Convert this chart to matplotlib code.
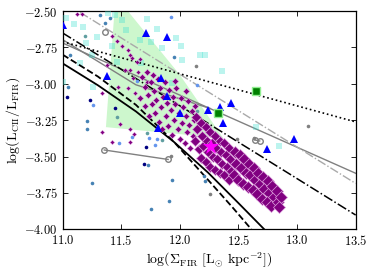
import numpy as np
import matplotlib
matplotlib.use('Agg')
import matplotlib.pyplot as plt
from matplotlib.ticker import FuncFormatter, MultipleLocator

plt.rcParams['mathtext.fontset'] = 'cm'
plt.rcParams['font.family'] = 'serif'
plt.rcParams['font.serif'] = ['DejaVu Serif']

# green shaded region
poly_x = [11.446, 11.514, 12.001, 12.370, 11.369]
poly_y = [-2.459, -2.459, -2.940, -3.374, -3.298]

# relations (lines)
solid_x = [11.0, 11.3, 11.625, 11.95, 12.24, 12.5, 12.72]
solid_y = [-2.86, -3.01, -3.19, -3.40, -3.61, -3.82, -4.0]
dashed_x = [11.0, 11.3, 11.625, 11.95, 12.24, 12.45, 12.61]
dashed_y = [-2.80, -2.95, -3.145, -3.40, -3.66, -3.85, -4.0]
dashdot_x = [11.0, 13.5]
dashdot_y = [-2.651, -3.902]
dotted_x = [11.0, 13.5]
dotted_y = [-2.711, -3.262]
gray1_x = [11.0, 13.5]
gray1_y = [-2.72, -3.615]
gray2_x = [11.0, 11.625, 12.26]
gray2_y = [-2.697, -3.007, -3.17]
graydd_x = [11.15, 13.5]
graydd_y = [-2.51, -3.685]

# paired measurements (open circles)
pairA_x = [11.355, 11.90]
pairA_y = [-3.455, -3.52]
pairB_x = [12.638, 12.681]
pairB_y = [-3.386, -3.393]
circ_x = [11.362]
circ_y = [-2.647]

# cyan squares
sq_x = [11.026, 11.096, 11.173, 11.199, 11.293, 11.387, 11.446, 11.506, 11.544, 11.660,
        11.719, 11.805, 11.751, 11.850, 11.964, 12.009, 12.014, 12.171, 12.214, 12.357,
        12.649, 12.850, 11.666, 11.935, 11.418, 11.247, 11.148, 11.259, 11.003, 11.461]
sq_y = [-2.550, -2.589, -2.608, -2.720, -2.676, -2.514, -2.528, -2.562, -2.631, -2.700,
        -2.555, -2.627, -2.715, -2.755, -2.686, -2.739, -2.839, -2.799, -2.805, -2.911,
        -3.300, -3.430, -2.858, -2.996, -2.743, -2.801, -2.858, -3.023, -2.987, -2.849]

# blue triangles
tri_x = [11.005, 11.381, 11.708, 11.892, 11.839, 11.887, 12.001, 11.816, 12.242, 12.342,
         12.436, 12.370, 12.974, 12.746]
tri_y = [-2.596, -2.947, -2.653, -2.681, -2.963, -3.083, -3.204, -3.303, -3.181, -3.159,
         -3.135, -3.269, -3.376, -3.445]

# green squares and star
gsq_x = [12.652, 12.325]
gsq_y = [-3.053, -3.202]
star_x = [12.268]
star_y = [-3.431]

# small dots by colour
steel_x = [11.318, 11.362, 11.404, 11.062, 11.048, 11.210, 11.205, 11.254, 11.950, 11.725,
           11.935, 11.910, 11.751, 12.206, 12.214]
steel_y = [-2.528, -2.583, -2.548, -2.801, -3.020, -3.259, -3.310, -3.679, -2.817, -3.558,
           -3.660, -3.808, -3.858, -3.631, -3.668]
corn_x = [11.921, 12.143, 11.637, 11.261, 11.483, 11.589, 11.736, 11.785, 11.807]
corn_y = [-2.539, -3.011, -2.980, -3.145, -3.408, -3.369, -3.374, -3.420, -3.379]
navy_x = [11.034, 11.233, 11.446, 11.713, 11.694, 12.406]
navy_y = [-3.094, -3.110, -3.168, -3.431, -3.553, -3.611]
teal_x = [11.461, 11.722, 11.845, 12.148, 11.190]
teal_y = [-3.225, -3.340, -3.388, -3.188, -2.674]
gray_x = [12.135, 11.927, 12.253, 12.137, 12.491, 12.632, 13.097]
gray_y = [-2.881, -3.496, -3.757, -3.227, -3.377, -3.372, -3.289]

# purple diamonds: small, medium, large, largest
dsm_x = [11.162, 11.418, 11.461, 11.503, 11.560, 11.574, 11.589, 11.532, 11.574, 11.597,
         11.560, 11.333, 11.474, 11.617, 11.375, 11.645, 11.717, 11.333, 11.418, 11.489,
         11.574, 11.574, 11.608, 11.63, 11.66, 11.12]
dsm_y = [-2.519, -2.674, -2.709, -2.743, -2.766, -2.801, -2.823, -2.904, -2.904, -2.961,
         -3.030, -3.064, -3.025, -3.064, -2.872, -2.918, -2.987, -3.328, -3.397, -3.278,
         -3.397, -3.31, -3.345, -2.85, -2.83, -2.52]
dmd_x = [11.68, 11.70, 11.72, 11.73, 11.75, 11.76, 11.77, 11.78, 11.79, 11.80, 11.81, 11.82,
         11.83, 11.84, 11.85, 11.86, 11.87, 11.88, 11.89, 11.90, 11.91, 11.92, 11.93, 11.94,
         11.95, 11.96, 11.97, 11.98, 11.99, 12.00, 12.01, 12.02, 12.03, 12.04, 12.05, 12.06,
         12.07, 12.08, 12.09, 12.10, 12.11, 12.12, 11.74, 11.70, 11.66, 11.96, 12.05, 12.13]
dmd_y = [-2.95, -3.02, -2.92, -3.08, -2.99, -3.14, -2.94, -3.05, -3.20, -3.11, -2.97, -3.26,
         -3.03, -3.16, -3.31, -3.09, -2.99, -3.22, -3.13, -3.29, -3.04, -3.18, -3.35, -3.09,
         -3.25, -3.14, -3.03, -3.31, -3.20, -3.38, -3.10, -3.27, -3.16, -3.41, -3.22, -3.33,
         -3.12, -3.28, -3.44, -3.19, -3.36, -3.25, -3.22, -3.15, -3.10, -2.98, -3.05, -3.15]
dlg_x = [12.14, 12.15, 12.13, 12.16, 12.18, 12.19, 12.20, 12.18, 12.22, 12.23, 12.24, 12.22,
         12.26, 12.27, 12.28, 12.26, 12.30, 12.31, 12.32, 12.30, 12.34, 12.35, 12.36, 12.34,
         12.38, 12.39, 12.40, 12.38, 12.42, 12.43, 12.44, 12.42]
dlg_y = [-3.23, -3.31, -3.39, -3.45, -3.27, -3.36, -3.43, -3.51, -3.30, -3.39, -3.47, -3.54,
         -3.33, -3.41, -3.50, -3.57, -3.36, -3.44, -3.52, -3.59, -3.39, -3.47, -3.55, -3.61,
         -3.41, -3.49, -3.57, -3.63, -3.44, -3.52, -3.60, -3.66]
dxl_x = [12.47, 12.48, 12.46, 12.51, 12.52, 12.50, 12.55, 12.56, 12.54, 12.59, 12.60, 12.58,
         12.63, 12.64, 12.62, 12.67, 12.68, 12.66, 12.71, 12.72, 12.70, 12.75, 12.76, 12.74,
         12.79, 12.80, 12.78, 12.83, 12.84, 12.86, 12.85]
dxl_y = [-3.47, -3.55, -3.63, -3.49, -3.58, -3.66, -3.52, -3.61, -3.69, -3.55, -3.63, -3.71,
         -3.58, -3.66, -3.73, -3.61, -3.69, -3.76, -3.64, -3.72, -3.79, -3.67, -3.75, -3.81,
         -3.70, -3.78, -3.84, -3.74, -3.81, -3.78, -3.85]

fig = plt.figure(figsize=(3.74, 2.70), dpi=100)
ax = fig.add_axes([0.1676, 0.1507, 0.7834, 0.8085])

ax.fill(poly_x, poly_y, color='lightgreen', alpha=0.45, lw=0, zorder=1)

ax.plot(gray1_x, gray1_y, '-', color='gray', lw=1.0, zorder=2)
ax.plot(gray2_x, gray2_y, '-', color='gray', lw=1.0, zorder=2)
ax.plot(graydd_x, graydd_y, '-.', color='darkgray', lw=1.0, zorder=2)
ax.plot(pairA_x, pairA_y, 'o-', color='gray', mfc='none', ms=4, lw=1.0, zorder=2)
ax.plot(pairB_x, pairB_y, 'o-', color='gray', mfc='none', ms=4, lw=1.0, zorder=2)
ax.plot(circ_x, circ_y, 'o', color='gray', mfc='none', ms=4, zorder=2)

ax.plot(sq_x, sq_y, 's', color='turquoise', alpha=0.35, ms=5, mew=0, zorder=3)

ax.plot(solid_x, solid_y, '-', color='k', lw=1.3, zorder=4)
ax.plot(dashed_x, dashed_y, '--', color='k', lw=1.3, zorder=4)
ax.plot(dashdot_x, dashdot_y, '-.', color='k', lw=1.1, zorder=4)
ax.plot(dotted_x, dotted_y, ':', color='k', lw=1.2, zorder=4)

ax.plot(steel_x, steel_y, 'o', color='steelblue', ms=2.6, mew=0, zorder=5)
ax.plot(corn_x, corn_y, 'o', color='cornflowerblue', ms=2.6, mew=0, zorder=5)
ax.plot(navy_x, navy_y, 'o', color='navy', ms=2.6, mew=0, zorder=5)
ax.plot(teal_x, teal_y, 'o', color='cadetblue', ms=2.6, mew=0, zorder=5)
ax.plot(gray_x, gray_y, 'o', color='gray', ms=2.6, mew=0, zorder=5)

ax.plot(dsm_x, dsm_y, 'D', color='purple', mec='plum', mew=0.3, ms=2.2, zorder=6)
ax.plot(dmd_x, dmd_y, 'D', color='purple', mec='plum', mew=0.4, ms=3.2, zorder=6)
ax.plot(dlg_x, dlg_y, 'D', color='purple', mec='plum', mew=0.5, ms=4.6, zorder=6)
ax.plot(dxl_x, dxl_y, 'D', color='purple', mec='plum', mew=0.5, ms=6.2, zorder=6)

ax.plot(tri_x, tri_y, '^', color='blue', ms=5.5, mew=0, zorder=7)
ax.plot(gsq_x, gsq_y, 's', color='green', mec='lightgreen', mew=1.0, ms=5.5, zorder=7)
ax.plot(star_x, star_y, '*', color='magenta', mew=0, ms=12, zorder=8)

ax.set_xlim(11.0, 13.5)
ax.set_ylim(-4.0, -2.5)
ax.xaxis.set_major_locator(MultipleLocator(0.5))
ax.yaxis.set_major_locator(MultipleLocator(0.25))
ax.xaxis.set_major_formatter(FuncFormatter(lambda v, p: f'${v:.1f}$'))
ax.yaxis.set_major_formatter(FuncFormatter(lambda v, p: f'${v:.2f}$'))
ax.tick_params(direction='in', top=True, right=True, labelsize=9, length=3.5, width=0.6)
for s in ax.spines.values():
    s.set_linewidth(0.9)

ax.set_xlabel(r'$\mathrm{log(\Sigma_{FIR}\ [L_{\odot}\ kpc^{-2}])}$', fontsize=10, labelpad=2)
ax.set_ylabel(r'$\mathrm{log(L_{CII}/L_{FIR})}$', fontsize=10, labelpad=2)

fig.savefig('out.png', dpi=100)
